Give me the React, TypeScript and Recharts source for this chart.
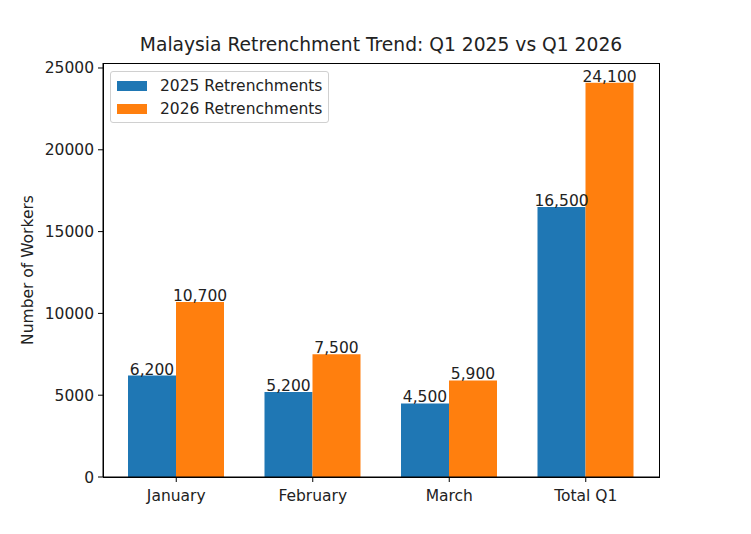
import { Bar, BarChart, LabelList, XAxis, YAxis } from "recharts";

const months = ["January", "February", "March", "Total Q1"];
const retrench2025 = [6200, 5200, 4500, 16500];
const retrench2026 = [10700, 7500, 5900, 24100];
const yTicks = [0, 5000, 10000, 15000, 20000, 25000];

const BLUE = "#1f77b4";
const ORANGE = "#ff7f0e";
const FONT = "DejaVu Sans, sans-serif";
const FS = 15.5;

const data = months.map((name, i) => ({
  name,
  y2025: retrench2025[i],
  y2026: retrench2026[i]
}));

const fmt = (v: number) => v.toLocaleString("en-US");

const legendItems = [
  { label: "2025 Retrenchments", color: BLUE },
  { label: "2026 Retrenchments", color: ORANGE }
];

export default function App() {
  return (
    <div style={{ position: "absolute", left: 0, top: 0, width: 751, height: 534, background: "#fff" }}>
      <BarChart
        width={751}
        height={534}
        data={data}
        margin={{ top: 63, right: 92, left: 0, bottom: 0 }}
        barGap={0}
        style={{ fontFamily: FONT }}
      >
        <XAxis
          dataKey="name"
          height={57}
          padding={{ left: 5, right: 5 }}
          stroke="#000"
          tickSize={5}
          tick={{ fill: "#222", fontSize: FS }}
          tickMargin={8}
        />
        <YAxis
          width={103}
          domain={[0, 25305]}
          ticks={yTicks}
          allowDataOverflow
          stroke="#000"
          tickSize={5}
          tick={{ fill: "#222", fontSize: FS }}
          tickMargin={4}
          label={{
            value: "Number of Workers",
            angle: -90,
            position: "insideLeft",
            dx: 22,
            dy: 0,
            style: { fill: "#222", fontSize: FS, textAnchor: "middle" }
          }}
        />
        <Bar dataKey="y2025" name="2025 Retrenchments" fill={BLUE} barSize={48} isAnimationActive={false}>
          <LabelList dataKey="y2025" position="top" offset={1} formatter={fmt} fill="#222" fontSize={FS} />
        </Bar>
        <Bar dataKey="y2026" name="2026 Retrenchments" fill={ORANGE} barSize={48} isAnimationActive={false}>
          <LabelList dataKey="y2026" position="top" offset={1} formatter={fmt} fill="#222" fontSize={FS} />
        </Bar>
      </BarChart>
      <div
        style={{
          position: "absolute",
          top: 34,
          left: 103,
          width: 556,
          textAlign: "center",
          fontFamily: FONT,
          fontSize: 18.7,
          color: "#222"
        }}
      >
        Malaysia Retrenchment Trend: Q1 2025 vs Q1 2026
      </div>
      <div
        style={{
          position: "absolute",
          left: 103,
          top: 63,
          width: 557,
          height: 415,
          border: "1px solid #000",
          boxSizing: "border-box",
          pointerEvents: "none"
        }}
      />
      <div
        style={{
          position: "absolute",
          left: 110,
          top: 71,
          border: "1px solid #d0d0d0",
          borderRadius: 3,
          background: "rgba(255,255,255,0.8)",
          padding: "2px 6px 2px 6px",
          fontFamily: FONT,
          fontSize: FS,
          color: "#222"
        }}
      >
        {legendItems.map((it) => (
          <div key={it.label} style={{ display: "flex", alignItems: "center", height: 23 }}>
            <span style={{ width: 30, height: 10, background: it.color, marginRight: 13 }} />
            <span>{it.label}</span>
          </div>
        ))}
      </div>
    </div>
  );
}
